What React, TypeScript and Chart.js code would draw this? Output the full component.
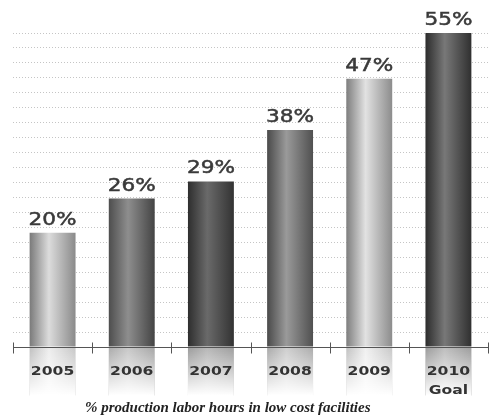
import React, { useEffect, useRef } from "react";
import { Chart, registerables } from "chart.js";

Chart.register(...registerables);

// Share of production labor hours in low cost facilities, by year
const years: string[][] = [["2005"], ["2006"], ["2007"], ["2008"], ["2009"], ["2010", "Goal"]];
const shares: number[] = [20, 26, 29, 38, 47, 55];
const shareLabels: string[] = ["20%", "26%", "29%", "38%", "47%", "55%"];
const caption = "% production labor hours in low cost facilities";

// Cylinder shading for each bar: left edge, highlight, right edge
const barShades: string[][] = [
  ["#7a7a7a", "#dcdcdc", "#8a8a8a"],
  ["#4e4e4e", "#8e8e8e", "#444444"],
  ["#2e2e2e", "#6a6a6a", "#333333"],
  ["#4a4a4a", "#9a9a9a", "#505050"],
  ["#7e7e7e", "#e2e2e2", "#8c8c8c"],
  ["#2c2c2c", "#787878", "#303030"],
];

const BAR_FRACTION = 0.58;

function shadeGradient(ctx: CanvasRenderingContext2D, left: number, right: number, i: number) {
  const g = ctx.createLinearGradient(left, 0, right, 0);
  const [a, b, c] = barShades[i];
  g.addColorStop(0, a);
  g.addColorStop(0.42, b);
  g.addColorStop(1, c);
  return g;
}

function wideText(ctx: CanvasRenderingContext2D, text: string, x: number, y: number, sx: number, stroke = false) {
  ctx.save();
  ctx.translate(x, y);
  ctx.scale(sx, 1);
  ctx.fillText(text, 0, 0);
  if (stroke) ctx.strokeText(text, 0, 0);
  ctx.restore();
}

const decorPlugin = {
  id: "decor",
  afterDatasetsDraw(chart: any) {
    const ctx: CanvasRenderingContext2D = chart.ctx;
    const xs = chart.scales.x;
    const ys = chart.scales.y;
    const meta = chart.getDatasetMeta(0);
    const axisY = Math.round(ys.getPixelForValue(0)) + 0.5;

    // mirrored reflections below the axis
    meta.data.forEach((bar: any, i: number) => {
      const left = bar.x - bar.width / 2;
      const right = bar.x + bar.width / 2;
      const h = 48;
      ctx.save();
      ctx.globalAlpha = 0.5;
      ctx.fillStyle = shadeGradient(ctx, left, right, i);
      ctx.fillRect(left, axisY, right - left, h);
      ctx.globalAlpha = 1;
      const fade = ctx.createLinearGradient(0, axisY, 0, axisY + h);
      fade.addColorStop(0, "rgba(255,255,255,0.05)");
      fade.addColorStop(1, "rgba(255,255,255,1)");
      ctx.fillStyle = fade;
      ctx.fillRect(left, axisY, right - left, h + 1);
      ctx.restore();
    });

    // axis line with tick marks on category boundaries
    ctx.save();
    ctx.strokeStyle = "#555";
    ctx.lineWidth = 1;
    ctx.beginPath();
    ctx.moveTo(chart.chartArea.left, axisY);
    ctx.lineTo(chart.chartArea.right, axisY);
    const step = (chart.chartArea.right - chart.chartArea.left) / shares.length;
    for (let i = 0; i <= shares.length; i++) {
      const tx = Math.round(xs.getPixelForValue(i) - step / 2) + 0.5;
      ctx.moveTo(tx, axisY - 5);
      ctx.lineTo(tx, axisY + 6);
    }
    ctx.stroke();
    ctx.restore();

    // year labels
    ctx.save();
    ctx.fillStyle = "#333";
    ctx.font = "bold 12px 'DejaVu Sans'";
    ctx.textAlign = "center";
    ctx.textBaseline = "alphabetic";
    years.forEach((lines, i) => {
      const cx = xs.getPixelForValue(i);
      lines.forEach((t, j) => wideText(ctx, t, cx, axisY + 27 + j * 19, 1.3));
    });
    ctx.restore();

    // value labels above bars
    ctx.save();
    ctx.fillStyle = "#3a3a3a";
    ctx.strokeStyle = "#3a3a3a";
    ctx.lineWidth = 0.5;
    ctx.font = "18px 'DejaVu Sans'";
    ctx.textAlign = "center";
    ctx.textBaseline = "alphabetic";
    meta.data.forEach((bar: any, i: number) => {
      wideText(ctx, shareLabels[i], bar.x, bar.y - 8, 1.2, true);
    });
    ctx.restore();

    // caption
    ctx.save();
    ctx.fillStyle = "#222";
    ctx.font = "bold italic 15px 'Liberation Serif'";
    ctx.textAlign = "center";
    ctx.textBaseline = "alphabetic";
    ctx.fillText(caption, chart.width * 0.462, chart.height - 7);
    ctx.restore();
  },
};

export default function App() {
  const ref = useRef<HTMLCanvasElement | null>(null);

  useEffect(() => {
    if (!ref.current) return;
    const chart = new Chart(ref.current, {
      type: "bar",
      data: {
        labels: years,
        datasets: [
          {
            data: shares,
            backgroundColor: (c: any) => {
              const ch = c.chart;
              const xs = ch.scales.x;
              if (!ch.chartArea || !xs || c.dataIndex === undefined) return "#777";
              const cx = xs.getPixelForValue(c.dataIndex);
              const half = ((ch.chartArea.right - ch.chartArea.left) / shares.length) * BAR_FRACTION / 2;
              return shadeGradient(ch.ctx, cx - half, cx + half, c.dataIndex);
            },
            borderWidth: 0,
            barPercentage: BAR_FRACTION,
            categoryPercentage: 1,
          },
        ],
      },
      options: {
        animation: false,
        responsive: true,
        maintainAspectRatio: false,
        layout: { padding: { left: 13, right: 5, top: 33, bottom: 72 } },
        plugins: { legend: { display: false }, tooltip: { enabled: false }, title: { display: false } },
        scales: {
          x: { display: false },
          y: {
            min: 0,
            max: 55,
            ticks: { display: false, count: 22 },
            grid: { color: "rgba(150,150,150,0.55)", lineWidth: 1, drawTicks: false },
            border: { display: false, dash: [1, 2] },
          },
        },
      },
      plugins: [decorPlugin],
    });
    return () => chart.destroy();
  }, []);

  return (
    <div style={{ position: "absolute", left: 0, top: 0, width: 493, height: 419, background: "#fff" }}>
      <canvas ref={ref} />
    </div>
  );
}
